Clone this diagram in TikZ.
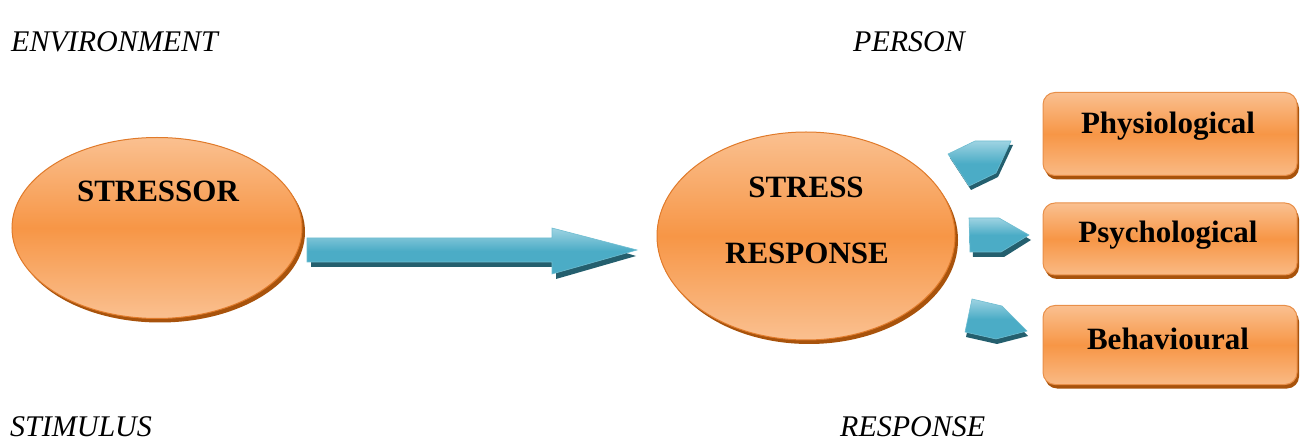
\documentclass[tikz,border=0pt]{standalone}
\usepackage{fontspec}
\setmainfont{Liberation Serif}
\usetikzlibrary{shapes.geometric}
\definecolor{orL}{HTML}{FAC090}
\definecolor{orM}{HTML}{F79646}
\definecolor{orB}{HTML}{E07A2A}
\definecolor{orS}{HTML}{A8530C}
\definecolor{blL}{HTML}{9ED3E2}
\definecolor{blM}{HTML}{4BACC6}
\definecolor{blS}{HTML}{245F6E}
\tikzset{
  x=1pt, y=-1pt,
  oval/.style={ellipse, inner sep=0pt, top color=orL, bottom color=orL, middle color=orM, draw=orB, line width=1pt},
  ovalshadow/.style={ellipse, inner sep=0pt, fill=orS},
  box/.style={rounded corners=12pt, inner sep=0pt, top color=orL, bottom color=orL!85!orM, middle color=orM, draw=orB!70!orL, line width=1pt, minimum width=254pt},
  boxshadow/.style={rounded corners=12pt, inner sep=0pt, fill=orS, minimum width=254pt},
  blockarrow/.style={top color=blL, bottom color=blM, middle color=blM, draw=blM!80!white, line width=0.6pt},
  arrowshadow/.style={fill=blS},
  bigtxt/.style={font=\fontsize{31}{36}\selectfont\bfseries, inner sep=0pt},
  ittxt/.style={font=\fontsize{30}{34}\selectfont\itshape, inner sep=0pt, anchor=base west}
}
\begin{document}
\begin{tikzpicture}
\useasboundingbox (0,0) rectangle (1303,443);
% corner labels
\node[ittxt] (env) at (11,52) {ENVIRONMENT};
\node[ittxt] (per) at (853,52) {PERSON};
\node[ittxt] (sti) at (10,436) {STIMULUS};
\node[ittxt] (rsp) at (840,436) {RESPONSE};
% stressor ellipse
\node[ovalshadow, minimum width=290pt, minimum height=181pt] (stsh) at (160,232) {};
\node[oval, minimum width=290pt, minimum height=181pt] (stressor) at (157,228) {};
\node[bigtxt] (stxt) at (158,191) {STRESSOR};
% stress response ellipse
\node[ovalshadow, minimum width=298pt, minimum height=208pt] (rsh) at (809,240) {};
\node[oval, minimum width=298pt, minimum height=208pt] (resp) at (806,236) {};
\node[bigtxt] (rtxt1) at (806,187) {STRESS};
\node[bigtxt] (rtxt2) at (807,253) {RESPONSE};
% big arrow
\fill[arrowshadow] (311,242) -- (556,242) -- (556,232) -- (636,256) -- (556,279) -- (556,267) -- (311,267) -- cycle;
\path[blockarrow] (307,238) -- (552,238) -- (552,228) -- (637,250) -- (552,274) -- (552,262) -- (307,262) -- cycle;
% small arrows
\fill[arrowshadow] (950,158) -- (977,145) -- (1013,145) -- (998,177) -- (971,190) -- cycle;
\path[blockarrow] (948,154) -- (975,141) -- (1011,141) -- (996,173) -- (969,186) -- cycle;
\fill[arrowshadow] (972,223) -- (1002,223) -- (1031,240) -- (1004,257) -- (973,257) -- cycle;
\path[blockarrow] (969,218) -- (999,218) -- (1029,235) -- (1001,252) -- (970,252) -- cycle;
\fill[arrowshadow] (973,304) -- (1003,311) -- (1028,336) -- (997,344) -- (966,337) -- cycle;
\path[blockarrow] (972,299) -- (1002,306) -- (1027,331) -- (996,339) -- (965,332) -- cycle;
% boxes
\node[boxshadow, minimum height=83pt] (b1s) at (1172,138) {};
\node[box, minimum height=83pt] (b1) at (1170,134) {};
\node[bigtxt] (t1) at (1168,126) {Physiological};
\node[boxshadow, minimum height=72pt] (b2s) at (1172,243) {};
\node[box, minimum height=72pt] (b2) at (1170,239) {};
\node[bigtxt] (t2) at (1168,235) {Psychological};
\node[boxshadow, minimum height=79pt] (b3s) at (1172,349) {};
\node[box, minimum height=79pt] (b3) at (1170,345) {};
\node[bigtxt] (t3) at (1168,339) {Behavioural};
\end{tikzpicture}
\end{document}
